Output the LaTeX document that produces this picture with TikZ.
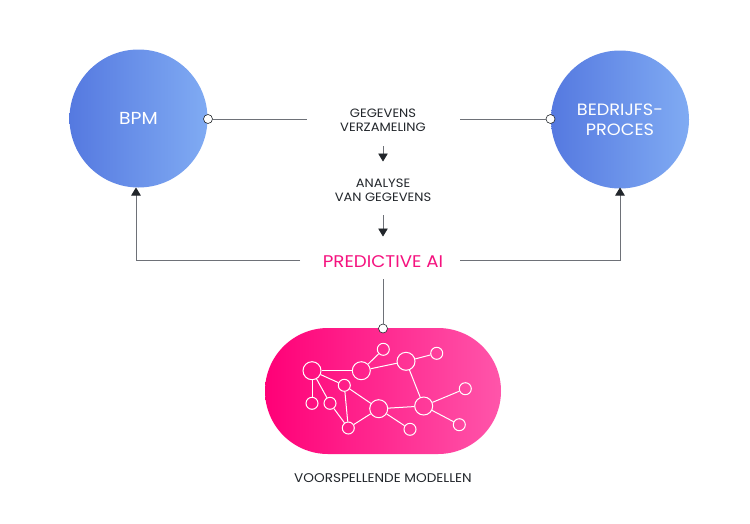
\documentclass[tikz,border=0pt]{standalone}
\usepackage{fontspec}
\setmainfont{Poppins}[FakeStretch=1.08]
\usetikzlibrary{arrows.meta}
\definecolor{blueL}{HTML}{5579E0}
\definecolor{blueR}{HTML}{80ABF3}
\definecolor{pinkL}{HTML}{FF0077}
\definecolor{pinkR}{HTML}{FF55AA}
\definecolor{ink}{HTML}{22262B}
\definecolor{wire}{HTML}{6E7178}
\definecolor{hot}{HTML}{F5127F}
\tikzset{
  bigcircle/.style={circle,minimum size=138pt,inner sep=0pt,left color=blueL,right color=blueR,draw=none,text=white,align=center},
  pill/.style={rounded corners=63pt,minimum width=236pt,minimum height=126pt,inner sep=0pt,left color=pinkL,right color=pinkR,draw=none},
  label/.style={text=ink,font=\fontsize{12.1}{14}\selectfont,align=center,inner sep=0pt},
  port/.style={circle,draw=ink,line width=0.6pt,fill=white,minimum size=9pt,inner sep=0pt},
  wireline/.style={draw=wire,line width=0.7pt},
  arrowline/.style={wireline,-{Triangle[length=8pt,width=9.5pt,color=ink]}},
  big/.style={circle,draw=white,line width=1pt,minimum size=18pt,inner sep=0pt},
  small/.style={circle,draw=white,line width=1pt,minimum size=12pt,inner sep=0pt},
  net/.style={draw=white,line width=1pt}
}
\begin{document}
\begin{tikzpicture}[x=1pt,y=-1pt]
\useasboundingbox (0,0) rectangle (750,523);
\fill[white] (0,0) rectangle (750,523);
\node[bigcircle,font=\fontsize{17.4}{20}\selectfont] (bpm) at (138.5,118.5) {BPM};
\node[bigcircle,font=\fontsize{16.4}{20}\selectfont] (proc) at (620,119.5) {BEDRIJFS-\\PROCES};
\node[pill] (model) at (383,391) {};
\node[label] (gv) at (383,120) {GEGEVENS\\VERZAMELING};
\node[label] (an) at (383,190) {ANALYSE\\VAN GEGEVENS};
\node[text=hot,font=\fontsize{16.9}{18}\selectfont,inner sep=0pt] (ai) at (383,261.5) {PREDICTIVE AI};
\node[label,font=\fontsize{12.6}{14}\selectfont] (vm) at (383,478) {VOORSPELLENDE MODELLEN};
\coordinate (gvl) at (307,119);
\coordinate (gvr) at (460,119);
\coordinate (a1s) at (383,146);
\coordinate (a1e) at (383,161.5);
\coordinate (a2s) at (383,215);
\coordinate (a2e) at (383,236.5);
\coordinate (ail) at (300,260.5);
\coordinate (air) at (460,260.5);
\coordinate (aib) at (383,279);
\coordinate (bpmb) at (136,187.5);
\coordinate (procb) at (620,187.5);
\node[port] (p1) at (208,119) {};
\node[port] (p2) at (550.5,119) {};
\node[port] (p3) at (383,328.5) {};
\draw[wireline] (p1) -- (gvl);
\draw[wireline] (gvr) -- (p2);
\draw[wireline] (aib) -- (p3);
\draw[arrowline] (a1s) -- (a1e);
\draw[arrowline] (a2s) -- (a2e);
\draw[arrowline] (ail) -| (bpmb);
\draw[arrowline] (air) -| (procb);
\node[big] (A) at (312,370.7) {};
\node[big] (B) at (361.3,370.7) {};
\node[small] (C) at (383.3,349.3) {};
\node[big] (D) at (406,361.3) {};
\node[small] (E) at (436.7,353.3) {};
\node[small] (F) at (344.3,385.3) {};
\node[small] (G) at (312,403.3) {};
\node[small] (H) at (330,403.3) {};
\node[small] (I) at (348.3,428) {};
\node[big] (J) at (378.7,408.7) {};
\node[big] (K) at (423.7,406) {};
\node[small] (L) at (465.3,388.7) {};
\node[small] (M) at (459.3,424.7) {};
\node[small] (N) at (410,429.3) {};
\foreach \a/\b in {A/B,B/C,B/D,D/E,D/K,A/F,A/G,A/H,H/I,F/I,F/J,J/I,J/K,J/N,K/L,K/M}
  \draw[net] (\a) -- (\b);
\end{tikzpicture}
\end{document}
